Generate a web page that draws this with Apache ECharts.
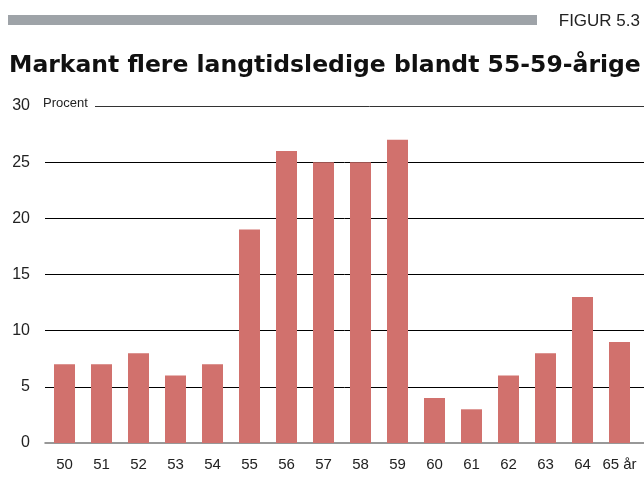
<!DOCTYPE html>
<html>
<head>
<meta charset="utf-8">
<script src="https://cdn.jsdelivr.net/npm/echarts@6/dist/echarts.min.js"></script>
<style>
html, body { margin: 0; padding: 0; background: #fff; }
#chart { width: 644px; height: 478px; }
</style>
</head>
<body>
<div id="chart"></div>
<script>
// alder (år)
var ages = ['50', '51', '52', '53', '54', '55', '56', '57', '58', '59', '60', '61', '62', '63', '64', '65 år'];
// andel langtidsledige, procent
var values = [7, 7, 8, 6, 7, 19, 26, 25, 25, 27, 4, 3, 6, 8, 13, 9];
var yMin = 0, yMax = 30, yStep = 5;

var font = '"Liberation Sans", Arial, Helvetica, sans-serif';
var myChart = echarts.init(document.getElementById('chart'));

myChart.setOption({
	animation: false,
	textStyle: { fontFamily: font },
	title: {
		text: 'Markant flere langtidsledige blandt 55-59-årige',
		left: 4,
		top: 49,
		textStyle: { fontSize: 23.5, fontWeight: 'bold', color: '#111', fontFamily: '"DejaVu Sans", ' + font }
	},
	graphic: [
		{ type: 'rect', left: 8, top: 15, shape: { width: 529, height: 10 }, style: { fill: '#9ea3a8' } },
		{ type: 'text', right: 4, top: 13, style: { text: 'FIGUR 5.3', font: '17px ' + font, fill: '#222' } },
		{ type: 'text', left: 43, top: 97, style: { text: 'Procent', font: '13px ' + font, fill: '#222' } }
	],
	grid: [
		// gitterlinjer + nullinje
		{ left: 45, right: 0, top: 106, bottom: 35 },
		// søjler
		{ left: 46, right: 6, top: 106, bottom: 35 },
		// øverste linje (efter "Procent")
		{ left: 95, right: 0, top: 106, bottom: 35 }
	],
	xAxis: [
		{ gridIndex: 0, type: 'value', min: 0, max: 1, axisLabel: { show: false }, axisTick: { show: false }, splitLine: { show: false },
			axisLine: { show: true, lineStyle: { color: '#777', width: 1.5 } } },
		{ gridIndex: 1, type: 'category', data: ages, axisLine: { show: false }, axisTick: { show: false },
			axisLabel: { color: '#222', fontSize: 15, margin: 14, interval: 0 } },
		{ gridIndex: 2, type: 'value', min: 0, max: 1, show: false }
	],
	yAxis: [
		{ gridIndex: 0, type: 'value', min: yMin, max: yMax, interval: yStep,
			axisLine: { show: false }, axisTick: { show: false },
			axisLabel: { color: '#222', fontSize: 16, margin: 15 },
			splitLine: { show: true, lineStyle: { color: ['transparent', '#000', '#000', '#000', '#000', '#000', 'transparent'], width: 1 } } },
		{ gridIndex: 1, type: 'value', min: yMin, max: yMax, interval: yStep, show: false },
		{ gridIndex: 2, type: 'value', min: yMin, max: yMax, interval: yStep,
			axisLine: { show: false }, axisTick: { show: false }, axisLabel: { show: false },
			splitLine: { show: true, lineStyle: { color: ['transparent', 'transparent', 'transparent', 'transparent', 'transparent', 'transparent', '#333'], width: 1 } } }
	],
	series: [
		{
			type: 'bar',
			xAxisIndex: 1,
			yAxisIndex: 1,
			data: values,
			barWidth: 21,
			itemStyle: { color: '#d1716d' }
		}
	]
});
</script>
</body>
</html>
